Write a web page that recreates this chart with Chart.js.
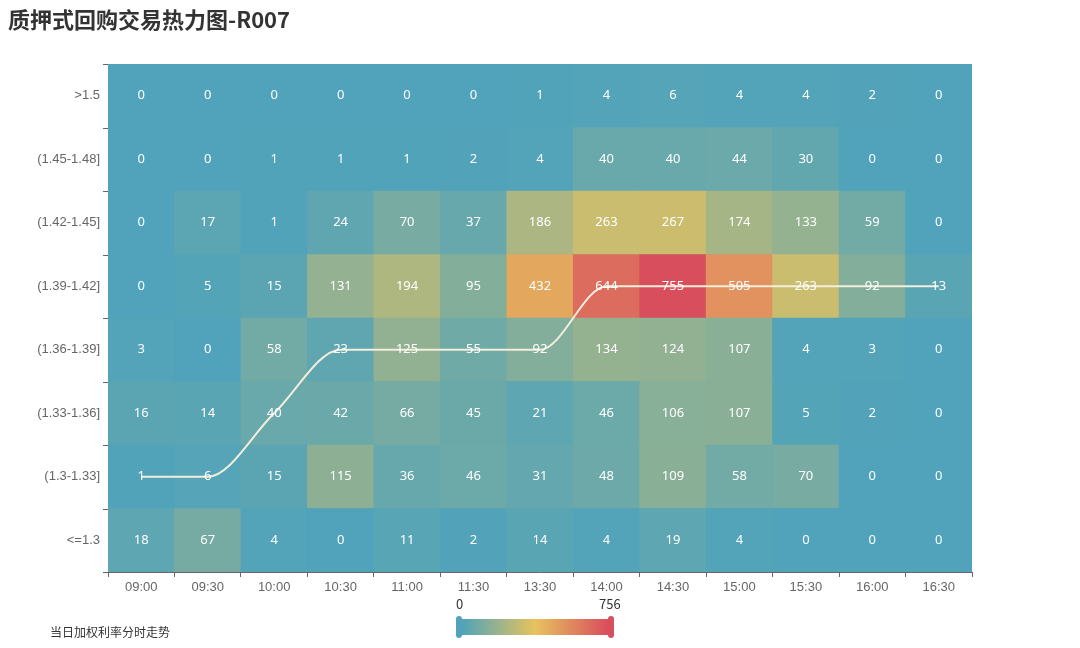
<!DOCTYPE html>
<html><head><meta charset="utf-8">
<script src="https://cdn.jsdelivr.net/npm/chart.js@4"></script>
<style>
body{margin:0;width:1080px;height:648px;position:relative;font-family:"Noto Sans CJK SC","Noto Sans",sans-serif;background:#fff;overflow:hidden}
#title{position:absolute;left:8px;top:2px;font-size:22px;font-weight:bold;color:#333}
#legend{position:absolute;left:50px;top:623px;font-size:12px;color:#333}
#vm{position:absolute;left:456px;top:616px;width:158px;height:22px}
#vm .bar{position:absolute;left:6px;right:6px;top:3px;height:16px;background:linear-gradient(to right,#50a3ba,#e6c35e,#d94e5d)}
#vm .h{position:absolute;top:0;width:6px;height:22px;border-radius:3px}
.vl{position:absolute;top:594px;font-size:13px;color:#333}
</style></head><body>
<div id="title">质押式回购交易热力图-R007</div>
<canvas id="c" width="1080" height="648"></canvas>
<div id="legend">当日加权利率分时走势</div>
<div class="vl" style="left:456px">0</div><div class="vl" style="left:599px">756</div>
<div id="vm"><div class="bar"></div><div class="h" style="left:0;background:#50a3ba"></div><div class="h" style="right:0;background:#d94e5d"></div></div>
<script>
const times = ['09:00','09:30','10:00','10:30','11:00','11:30','13:30','14:00','14:30','15:00','15:30','16:00','16:30'];
// rows from bottom to top
const rateBuckets = ['<=1.3','(1.3-1.33]','(1.33-1.36]','(1.36-1.39]','(1.39-1.42]','(1.42-1.45]','(1.45-1.48]','>1.5'];
const rowLe130 = [18,67,4,0,11,2,14,4,19,4,0,0,0];
const row130 = [1,6,15,115,36,46,31,48,109,58,70,0,0];
const row133 = [16,14,40,42,66,45,21,46,106,107,5,2,0];
const row136 = [3,0,58,23,125,55,92,134,124,107,4,3,0];
const row139 = [0,5,15,131,194,95,432,644,755,505,263,92,13];
const row142 = [0,17,1,24,70,37,186,263,267,174,133,59,0];
const row145 = [0,0,1,1,1,2,4,40,40,44,30,0,0];
const rowGt150 = [0,0,0,0,0,0,1,4,6,4,4,2,0];
const rows = [rowLe130,row130,row133,row136,row139,row142,row145,rowGt150];
// weighted rate trend, as bucket position (row index + 0.5)
const trend = [1.5,1.5,2.5,3.5,3.5,3.5,3.5,4.5,4.5,4.5,4.5,4.5,4.5];
const maxVal = 756;

const stops = [[80,163,186],[230,195,94],[217,78,93]];
function color(v){
  let t = Math.pow(v/maxVal, 0.85)*2, i = Math.min(1, Math.floor(t)), f = t - i;
  const a = stops[i], b = stops[i+1];
  return 'rgb(' + a.map((x,k)=>Math.round(x+(b[k]-x)*f)).join(',') + ')';
}

const datasets = rows.map((r,i) => ({
  type:'bar', label:rateBuckets[i], data:times.map(()=>1),
  backgroundColor:r.map(color), borderWidth:0, stack:'cells',
  barPercentage:1, categoryPercentage:1, order:2
}));
datasets.push({
  type:'line', label:'当日加权利率分时走势', data:trend, stack:'line',
  borderColor:'#f3eedc', borderWidth:2, pointRadius:0,
  cubicInterpolationMode:'monotone', fill:false, order:1
});

const cellLabels = {
  id:'cellLabels',
  beforeDraw(chart){
    const a = chart.chartArea, ctx = chart.ctx;
    ctx.save(); ctx.fillStyle = color(0);
    ctx.fillRect(a.left,a.top,a.width,a.height); ctx.restore();
  },
  afterDatasetsDraw(chart){
    const ctx = chart.ctx, ys = chart.scales.y, a = chart.chartArea;
    ctx.save();
    ctx.fillStyle = '#fff'; ctx.font = '13px "Noto Sans","Noto Sans CJK SC",sans-serif';
    ctx.textAlign = 'center'; ctx.textBaseline = 'middle';
    rows.forEach((r,i)=>{
      chart.getDatasetMeta(i).data.forEach((el,j)=>{
        ctx.fillText(String(r[j]), el.x, ys.getPixelForValue(i+0.5));
      });
    });
    // y tick marks at bucket boundaries
    ctx.strokeStyle = '#666'; ctx.lineWidth = 1;
    for (let k = 0; k <= rows.length; k++) {
      const y = Math.round(ys.getPixelForValue(k)) + 0.5;
      ctx.beginPath(); ctx.moveTo(a.left-5, y); ctx.lineTo(a.left, y); ctx.stroke();
    }
    ctx.restore();
  }
};

new Chart(document.getElementById('c'), {
  data:{labels:times, datasets},
  options:{
    responsive:false, animation:false,
    layout:{padding:{left:0,right:108,top:64,bottom:0}},
    plugins:{legend:{display:false}, tooltip:{enabled:false}},
    scales:{
      x:{stacked:true, offset:true,
        grid:{offset:true, drawOnChartArea:false, color:'#666', tickLength:5},
        border:{color:'#666'},
        ticks:{color:'#666', font:{size:13}},
        afterFit(s){ s.height = 76; }},
      y:{stacked:true, min:0, max:8,
        afterBuildTicks(s){ s.ticks = rateBuckets.map((_,i)=>({value:i+0.5})); },
        ticks:{color:'#666', font:{size:13}, padding:8, callback:(v)=>rateBuckets[Math.floor(v)]},
        grid:{drawOnChartArea:false, tickLength:0},
        border:{display:false},
        afterFit(s){ s.width = 108; }}
    }
  },
  plugins:[cellLabels]
});
</script>
</body></html>
